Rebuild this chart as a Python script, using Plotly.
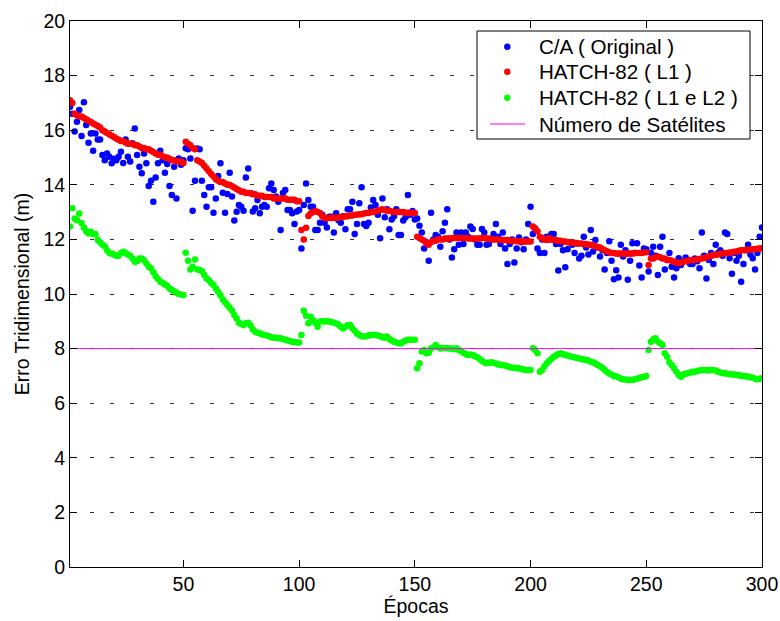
import plotly.graph_objects as go

epochs = list(range(1, 301))

ca_original = [
    16.86, 16.60, 15.95, 16.31, 16.74, 15.79, 17.02, 16.19, 15.54, 15.88,
    15.25, 15.88, 15.66, 15.66, 15.09, 14.90, 15.15, 15.03, 14.79, 14.95,
    14.90, 15.03, 15.21, 14.80, 15.66, 15.03, 14.85, 15.52, 16.06, 15.09,
    14.66, 14.42, 15.15, 14.79, 13.96, 14.15, 13.38, 14.27, 14.79, 15.25,
    14.90, 14.44, 14.76, 13.96, 13.63, 14.66, 13.50, 14.96, 14.73, 14.90,
    15.34, 15.30, 14.96, 13.05, 14.15, 15.33, 15.30, 14.15, 13.63, 13.20,
    13.91, 13.91, 12.98, 13.50, 14.32, 14.79, 13.71, 12.98, 13.66, 14.44,
    13.57, 12.69, 13.01, 13.26, 13.20, 13.05, 14.27, 14.60, 13.69, 13.02,
    13.14, 13.44, 12.96, 13.20, 13.26, 13.20, 13.87, 14.05, 13.81, 13.57,
    13.38, 12.34, 13.70, 13.81, 13.08, 13.08, 12.96, 12.56, 13.02, 13.08,
    11.67, 13.26, 14.05, 13.44, 13.20, 13.20, 12.34, 12.34, 12.61, 12.90,
    12.61, 12.44, 12.83, 12.83, 12.25, 12.96, 12.70, 12.61, 12.85, 12.37,
    13.10, 13.10, 13.38, 12.20, 12.56, 13.32, 13.91, 12.56, 12.49, 12.61,
    13.17, 13.44, 13.26, 12.90, 12.04, 13.50, 12.81, 13.10, 12.37, 12.73,
    12.85, 13.10, 12.16, 12.16, 12.69, 12.81, 13.63, 12.90, 13.04, 12.73,
    12.77, 12.50, 12.25, 11.67, 11.90, 11.22, 12.98, 12.00, 12.16, 12.10,
    11.73, 12.30, 12.61, 13.10, 12.00, 11.34, 11.64, 12.25, 11.80, 12.25,
    11.83, 12.25, 12.10, 12.47, 12.38, 12.00, 11.80, 11.80, 12.38, 12.25,
    11.80, 11.83, 12.00, 12.20, 12.56, 12.10, 11.83, 12.25, 11.67, 11.10,
    11.83, 12.00, 11.15, 11.67, 12.07, 11.90, 11.64, 12.00, 12.56, 13.20,
    12.20, 12.40, 11.67, 11.50, 12.00, 11.50, 12.10, 12.00, 12.20, 12.20,
    11.83, 10.86, 11.83, 11.60, 10.98, 11.64, 11.90, 11.80, 11.50, 11.85,
    11.30, 11.40, 12.10, 11.70, 11.45, 12.34, 11.56, 11.98, 11.70, 11.37,
    11.60, 10.90, 11.50, 11.93, 11.22, 10.54, 10.87, 10.60, 11.80, 11.37,
    11.60, 10.52, 11.22, 11.86, 11.50, 11.86, 11.04, 10.60, 11.67, 11.64,
    10.82, 11.50, 11.73, 11.40, 10.70, 11.73, 12.10, 10.90, 11.25, 11.50,
    11.00, 10.60, 10.94, 11.31, 11.06, 11.20, 11.34, 11.20, 11.10, 11.10,
    11.30, 11.20, 10.94, 12.25, 11.40, 10.57, 11.25, 11.50, 11.10, 11.80,
    11.50, 11.60, 11.40, 12.25, 12.20, 11.31, 10.74, 11.50, 11.22, 11.40,
    10.45, 11.10, 11.60, 11.80, 11.45, 11.31, 10.90, 11.50, 12.10, 12.44,
]

hatch_l1 = [
    17.10, 17.00, 16.60, 16.55, 16.50, 16.50, 16.45, 16.40, 16.35, 16.30,
    16.25, 16.20, 16.15, 16.10, 16.00, 15.95, 15.90, 15.85, 15.80, 15.75,
    15.70, 15.65, 15.60, 15.60, 15.55, 15.50, 15.50, 15.50, 15.45, 15.45,
    15.40, 15.35, 15.35, 15.30, 15.30, 15.25, 15.20, 15.15, 15.10, 15.10,
    15.05, 15.00, 15.00, 14.95, 14.90, 14.90, 14.85, 14.85, 14.85, 14.80,
    15.58, 15.50, 15.45, 15.35, 15.30, 14.90, 14.85, 14.80, 14.70, 14.60,
    14.50, 14.40, 14.30, 14.20, 14.15, 14.10, 14.10, 14.05, 14.00, 14.00,
    13.95, 13.90, 13.85, 13.80, 13.75, 13.75, 13.70, 13.70, 13.70, 13.65,
    13.65, 13.60, 13.60, 13.60, 13.55, 13.55, 13.55, 13.55, 13.50, 13.50,
    13.50, 13.50, 13.50, 13.50, 13.45, 13.45, 13.45, 13.45, 13.40, 13.40,
    12.34, 12.00, 12.43, 12.86, 12.95, 13.00, 13.04, 13.00, 12.97, 12.85,
    12.78, 12.78, 12.78, 12.78, 12.80, 12.78, 12.80, 12.82, 12.82, 12.85,
    12.85, 12.88, 12.88, 12.90, 12.90, 12.92, 12.92, 12.95, 12.97, 12.97,
    13.00, 13.00, 13.02, 13.05, 13.08, 13.10, 13.08, 13.05, 13.05, 13.02,
    13.00, 13.00, 13.00, 13.00, 13.00, 12.98, 12.98, 12.98, 12.97, 12.97,
    12.10, 12.05, 12.00, 11.95, 11.85, 11.80, 11.90, 11.95, 11.95, 12.00,
    12.00, 12.00, 12.03, 12.03, 12.03, 12.05, 12.05, 12.05, 12.05, 12.05,
    12.05, 12.05, 12.03, 12.03, 12.03, 12.03, 12.03, 12.03, 12.05, 12.05,
    12.03, 12.03, 12.00, 12.00, 12.00, 12.00, 11.98, 11.98, 11.98, 11.98,
    11.95, 11.95, 11.95, 11.93, 11.93, 11.92, 11.92, 11.92, 11.92, 11.92,
    12.47, 12.40, 12.30, 12.10, 12.05, 12.00, 11.98, 12.05, 12.00, 11.98,
    11.98, 11.95, 11.95, 11.92, 11.92, 11.90, 11.90, 11.88, 11.88, 11.85,
    11.85, 11.85, 11.83, 11.83, 11.80, 11.80, 11.78, 11.75, 11.72, 11.70,
    11.65, 11.60, 11.57, 11.53, 11.50, 11.50, 11.48, 11.48, 11.48, 11.48,
    11.48, 11.48, 11.48, 11.48, 11.50, 11.50, 11.50, 11.50, 11.52, 11.53,
    11.06, 11.30, 11.30, 11.35, 11.37, 11.35, 11.30, 11.30, 11.25, 11.25,
    11.22, 11.18, 11.15, 11.13, 11.15, 11.18, 11.20, 11.22, 11.25, 11.25,
    11.25, 11.26, 11.28, 11.30, 11.32, 11.35, 11.37, 11.40, 11.42, 11.44,
    11.45, 11.47, 11.48, 11.50, 11.50, 11.52, 11.53, 11.55, 11.56, 11.58,
    11.60, 11.60, 11.62, 11.62, 11.63, 11.64, 11.65, 11.66, 11.67, 11.68,
]

hatch_l1_l2 = [
    12.47, 13.14, 12.77, 12.70, 12.95, 12.60, 12.44, 12.30, 12.22, 12.28,
    12.20, 12.20, 11.98, 11.90, 11.80, 11.75, 11.60, 11.50, 11.48, 11.45,
    11.40, 11.40, 11.50, 11.55, 11.50, 11.45, 11.40, 11.30, 11.18, 11.20,
    11.30, 11.30, 11.24, 11.12, 11.00, 10.94, 10.80, 10.65, 10.55, 10.45,
    10.41, 10.35, 10.30, 10.20, 10.15, 10.10, 10.05, 10.00, 9.98, 9.96,
    11.51, 11.22, 10.90, 11.00, 11.26, 10.90, 10.88, 10.84, 10.70, 10.57,
    10.50, 10.40, 10.33, 10.20, 10.08, 9.95, 9.80, 9.70, 9.60, 9.50,
    9.40, 9.23, 9.10, 8.95, 8.90, 8.86, 8.93, 8.95, 8.85, 8.70,
    8.62, 8.58, 8.56, 8.52, 8.50, 8.48, 8.45, 8.42, 8.40, 8.40,
    8.38, 8.38, 8.35, 8.32, 8.30, 8.28, 8.25, 8.24, 8.22, 8.22,
    8.50, 9.39, 9.20, 8.93, 9.17, 9.05, 8.95, 8.80, 8.99, 9.00,
    8.99, 9.00, 8.99, 8.97, 8.95, 8.92, 8.88, 8.80, 8.74, 8.80,
    8.86, 8.86, 8.75, 8.65, 8.55, 8.50, 8.45, 8.44, 8.45, 8.48,
    8.50, 8.50, 8.50, 8.48, 8.45, 8.42, 8.40, 8.44, 8.35, 8.30,
    8.25, 8.22, 8.20, 8.19, 8.25, 8.30, 8.32, 8.32, 8.32, 8.32,
    7.28, 7.46, 7.89, 7.95, 7.83, 7.85, 8.00, 8.05, 8.13, 8.05,
    8.00, 8.02, 8.02, 8.01, 8.00, 8.00, 7.98, 8.01, 7.95, 7.90,
    7.85, 7.80, 7.77, 7.78, 7.77, 7.72, 7.68, 7.62, 7.55, 7.50,
    7.46, 7.48, 7.50, 7.48, 7.45, 7.42, 7.40, 7.40, 7.38, 7.35,
    7.33, 7.30, 7.30, 7.28, 7.28, 7.25, 7.23, 7.22, 7.22, 7.22,
    8.01, 7.95, 7.83, 7.15, 7.22, 7.35, 7.46, 7.55, 7.62, 7.70,
    7.75, 7.80, 7.83, 7.80, 7.77, 7.75, 7.72, 7.70, 7.68, 7.66,
    7.64, 7.62, 7.60, 7.58, 7.56, 7.52, 7.50, 7.45, 7.40, 7.35,
    7.30, 7.22, 7.15, 7.09, 7.05, 7.00, 6.98, 6.95, 6.90, 6.88,
    6.87, 6.85, 6.85, 6.85, 6.88, 6.90, 6.92, 6.95, 6.97, 7.00,
    7.95, 8.25, 8.34, 8.38, 8.25, 8.20, 8.13, 7.83, 7.70, 7.50,
    7.40, 7.28, 7.15, 7.03, 6.97, 7.05, 7.08, 7.10, 7.12, 7.15,
    7.15, 7.18, 7.20, 7.22, 7.22, 7.22, 7.20, 7.22, 7.22, 7.20,
    7.15, 7.12, 7.10, 7.10, 7.08, 7.06, 7.05, 7.05, 7.03, 7.03,
    7.00, 7.00, 6.98, 6.98, 6.95, 6.93, 6.90, 6.88, 6.90, 6.91,
]

sat_epochs = [1, 300]
sat_count = [8, 8]

x_ticks = [50, 100, 150, 200, 250, 300]
y_ticks = [0, 2, 4, 6, 8, 10, 12, 14, 16, 18, 20]

series_names = ["C/A ( Original )", "HATCH-82 ( L1 )", "HATCH-82 ( L1 e L2 )", "Número de Satélites"]
series_colors = ["#0000FF", "#FF0000", "#00FF00", "#FF00FF"]

FONT = "Arial, 'Liberation Sans', Helvetica, sans-serif"
W, H = 780, 621
ML, MR, MT, MB = 70, 18, 21, 54
PW, PH = W - ML - MR, H - MT - MB


def px_x(px):
    return (px - ML) / PW


def px_y(py):
    return (H - MB - py) / PH


fig = go.Figure()
for name, col, vals in zip(series_names[:3], series_colors[:3], [ca_original, hatch_l1, hatch_l1_l2]):
    fig.add_trace(go.Scatter(x=epochs, y=vals, mode="markers", name=name,
                             marker=dict(color=col, size=6.5, line=dict(width=0)),
                             showlegend=False))
fig.add_trace(go.Scatter(x=sat_epochs, y=sat_count, mode="lines", name=series_names[3],
                         line=dict(color=series_colors[3], width=1), showlegend=False))

# Legend box (drawn as in the original figure)
shapes = [dict(type="rect", xref="paper", yref="paper",
               x0=px_x(477), x1=px_x(750), y0=px_y(139), y1=px_y(31),
               line=dict(color="black", width=1), fillcolor="white", layer="above")]
annotations = []
row_y = [46.7, 71.7, 97.7, 124.0]
for i, (name, col) in enumerate(zip(series_names, series_colors)):
    yy = px_y(row_y[i])
    if i < 3:
        shapes.append(dict(type="circle", xref="paper", yref="paper",
                           xsizemode="pixel", ysizemode="pixel",
                           xanchor=px_x(507.3), yanchor=yy,
                           x0=-3.2, x1=3.2, y0=-3.2, y1=3.2,
                           fillcolor=col, line=dict(width=0), layer="above"))
    else:
        shapes.append(dict(type="line", xref="paper", yref="paper",
                           x0=px_x(490), x1=px_x(525), y0=yy, y1=yy,
                           line=dict(color=col, width=1), layer="above"))
    annotations.append(dict(text=name, xref="paper", yref="paper",
                            x=px_x(537), y=yy, xanchor="left", yanchor="middle",
                            showarrow=False, font=dict(size=20.6, color="black")))

fig.update_layout(
    width=W, height=H,
    margin=dict(l=ML, r=MR, t=MT, b=MB, autoexpand=False),
    paper_bgcolor="white", plot_bgcolor="white",
    font=dict(family=FONT, size=19.5, color="black"),
    showlegend=False,
    shapes=shapes,
    annotations=annotations,
    xaxis=dict(range=[1, 300], tickvals=x_ticks, ticks="inside", ticklen=7,
               tickcolor="black", showline=True, linecolor="black", linewidth=1,
               mirror="ticks", showgrid=False, zeroline=False, automargin=False,
               title=dict(text="Épocas", standoff=2, font=dict(size=19.5))),
    yaxis=dict(range=[0, 20], tickvals=y_ticks, ticks="inside", ticklen=7,
               tickcolor="black", showline=True, linecolor="black", linewidth=1,
               mirror="ticks", showgrid=True, gridcolor="#333333", gridwidth=1,
               griddash="4px,16px", zeroline=False, automargin=False,
               title=dict(text="Erro Tridimensional (m)", standoff=8, font=dict(size=19.5))),
)

fig.write_html("out.html")
